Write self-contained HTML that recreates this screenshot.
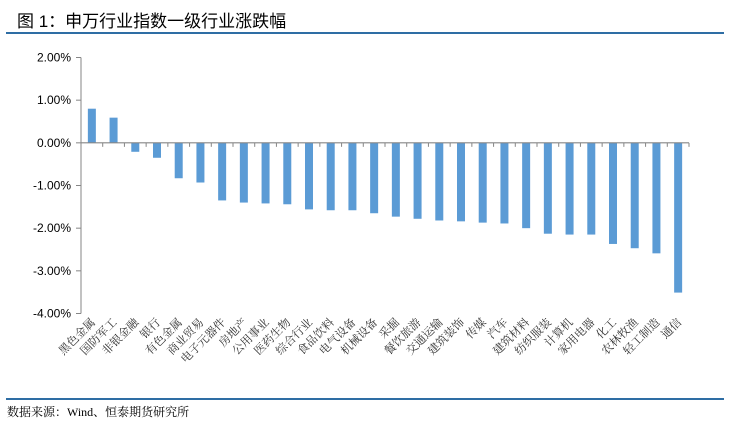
<!DOCTYPE html>
<html><head><meta charset="utf-8"><style>
body{margin:0;background:#fff;width:730px;height:424px;overflow:hidden;position:relative;font-family:"Liberation Serif","Noto Serif CJK SC",serif}
#title{position:absolute;left:17px;top:7px;font-family:"Liberation Sans","Noto Sans CJK SC",sans-serif;font-size:17px;color:#000}
.rule{position:absolute;left:6px;width:718px;height:2px;background:#2e6da4}
#src{position:absolute;left:7px;top:403px;font-size:12px;color:#000}
</style></head><body>
<div id="title">图 1：申万行业指数一级行业涨跌幅</div>
<div class="rule" style="top:32px"></div>
<svg id="chart" width="730" height="424" style="position:absolute;left:0;top:0"></svg>
<div class="rule" style="top:398px"></div>
<div id="src">数据来源：Wind、恒泰期货研究所</div>
<script>
const categories=["黑色金属","国防军工","非银金融","银行","有色金属","商业贸易","电子元器件","房地产","公用事业","医药生物","综合行业","食品饮料","电气设备","机械设备","采掘","餐饮旅游","交通运输","建筑装饰","传媒","汽车","建筑材料","纺织服装","计算机","家用电器","化工","农林牧渔","轻工制造","通信"];
const values=[0.80,0.59,-0.21,-0.35,-0.83,-0.93,-1.35,-1.40,-1.42,-1.44,-1.56,-1.58,-1.58,-1.65,-1.73,-1.78,-1.82,-1.84,-1.87,-1.89,-2.00,-2.13,-2.15,-2.15,-2.37,-2.47,-2.59,-3.51];
const yTicks=[2,1,0,-1,-2,-3,-4];
const yTickLabels=["2.00%","1.00%","0.00%","-1.00%","-2.00%","-3.00%","-4.00%"];
const NS="http://www.w3.org/2000/svg";
const svg=document.getElementById('chart');
const x0=81,x1=689,yMax=2,yMin=-4,yTop=57.5,yBot=313.5;
const step=(x1-x0)/categories.length;
function y(v){return yTop+(yMax-v)/(yMax-yMin)*(yBot-yTop);}
function xc(i){return x0+step*(i+0.5);}
function mk(t,a){const e=document.createElementNS(NS,t);for(const k in a)e.setAttribute(k,a[k]);svg.appendChild(e);return e;}
const ax=mk('line',{x1:x0,y1:yTop,x2:x0,y2:yBot,stroke:'#868686','stroke-width':1});


yTicks.forEach((v,i)=>{
  const t=mk('line',{x1:x0-5,y1:y(v),x2:x0,y2:y(v),stroke:'#868686'});
  
  
  const l=mk('text',{x:x0-10,y:y(v)+4,'text-anchor':'end','font-size':'12','font-family':'Liberation Sans, sans-serif'});
  l.textContent=yTickLabels[i];
  
  
});
values.forEach((v,i)=>{
  const top=Math.min(y(v),y(0)),h=Math.abs(y(v)-y(0));
  const b=mk('rect',{x:xc(i)-4,y:top,width:8,height:h,fill:'#5b9bd5'});
  
  
});
const zx=mk('line',{x1:x0,y1:y(0),x2:x1,y2:y(0),stroke:'#868686','stroke-width':1.2});


for(let i=0;i<=categories.length;i++){
  const t=mk('line',{x1:x0+step*i,y1:y(0),x2:x0+step*i,y2:y(0)+4,stroke:'#868686'});
  
  
}
categories.forEach((c,i)=>{
  const px=xc(i)+4,py=323;
  const l=mk('text',{x:px,y:py,'text-anchor':'end','font-size':'11.5',fill:'#333',transform:`rotate(-45 ${px} ${py})`,'font-family':'Liberation Serif, Noto Serif CJK SC, serif'});
  l.textContent=c;
  
  
});
</script>
</body></html>
